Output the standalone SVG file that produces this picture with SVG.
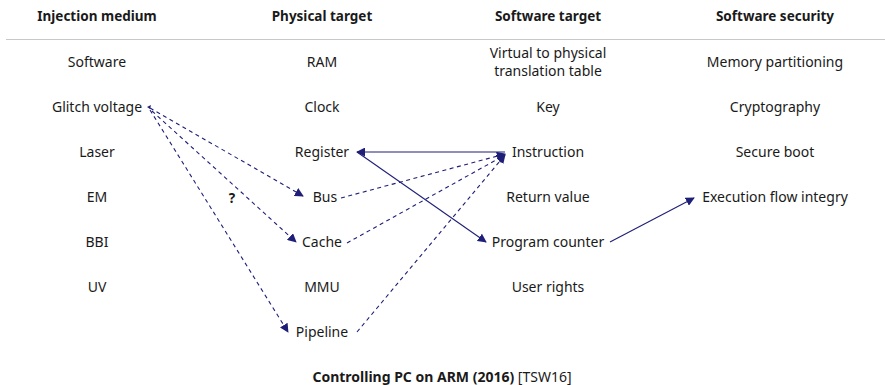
<svg xmlns="http://www.w3.org/2000/svg" width="885" height="385" viewBox="0 0 885 385">
<style>
text{font-family:"Noto Sans","Open Sans",sans-serif;font-size:14px;fill:#1a1a1a;text-anchor:middle}
.h{font-weight:bold;font-size:13.5px}
.c{fill:none;stroke:#1f1f78;stroke-width:1.1}
.d{stroke-dasharray:4,3.5}
</style>
<defs>
<marker id="ah" viewBox="0 0 10 10" refX="9" refY="5" markerWidth="9" markerHeight="9" markerUnits="userSpaceOnUse" orient="auto">
<path d="M0,0 L10,5 L0,10 z" fill="#1f1f78"/>
</marker>
</defs>
<rect width="885" height="385" fill="#fff"/>
<g id="headers">
<text class="h" x="97" y="21">Injection medium</text>
<text class="h" x="322" y="21">Physical target</text>
<text class="h" x="548" y="21">Software target</text>
<text class="h" x="775" y="21">Software security</text>
<line x1="6" y1="39.5" x2="885" y2="39.5" stroke="#c8c8c8" stroke-width="1"/>
</g>
<g id="col1">
<g id="software"><text x="97" y="67">Software</text></g>
<g id="glitch"><text x="97" y="112">Glitch voltage</text></g>
<g id="laser"><text x="97" y="157">Laser</text></g>
<g id="em"><text x="97" y="202">EM</text></g>
<g id="bbi"><text x="97" y="247">BBI</text></g>
<g id="uv"><text x="97" y="292">UV</text></g>
</g>
<g id="col2">
<g id="ram"><text x="322" y="67">RAM</text></g>
<g id="clock"><text x="322" y="112">Clock</text></g>
<g id="register"><text x="322" y="157">Register</text></g>
<g id="bus"><text x="325" y="202">Bus</text></g>
<g id="cache"><text x="322" y="247">Cache</text></g>
<g id="mmu"><text x="322" y="292">MMU</text></g>
<g id="pipeline"><text x="322" y="337">Pipeline</text></g>
</g>
<g id="col3">
<g id="virtual"><text x="548" y="58">Virtual to physical</text><text x="548" y="76">translation table</text></g>
<g id="key"><text x="548" y="112">Key</text></g>
<g id="instruction"><text x="548" y="157">Instruction</text></g>
<g id="retval"><text x="548" y="202">Return value</text></g>
<g id="pc"><text x="548" y="247">Program counter</text></g>
<g id="userrights"><text x="548" y="292">User rights</text></g>
</g>
<g id="col4">
<g id="mempart"><text x="775" y="67">Memory partitioning</text></g>
<g id="crypto"><text x="775" y="112">Cryptography</text></g>
<g id="secboot"><text x="775" y="157">Secure boot</text></g>
<g id="cfi"><text x="775" y="202">Execution flow integry</text></g>
</g>
<g id="connectors">
<path class="c d" d="M150,108 L303,196" marker-end="url(#ah)"/>
<path class="c d" d="M152,111 L296,242" marker-end="url(#ah)"/>
<path class="c d" d="M150,110 L288,332" marker-end="url(#ah)"/>
<path d="M147,107 L151,105 L150,109 z" fill="#1f1f78"/>
<path class="c d" d="M341,198 L505,154" marker-end="url(#ah)"/>
<path class="c d" d="M347,243 L505,155" marker-end="url(#ah)"/>
<path class="c d" d="M357,332 L505,155" marker-end="url(#ah)"/>
<path class="c" d="M505,152 L357,152" marker-end="url(#ah)"/>
<path class="c" d="M357,152 L486,242" marker-end="url(#ah)"/>
<path class="c" d="M610,242 L694,198" marker-end="url(#ah)"/>
<text class="h" x="232" y="203">?</text>
</g>
<g id="footer">
<text x="442" y="382"><tspan font-weight="bold">Controlling PC on ARM (2016)</tspan> [TSW16]</text>
</g>
</svg>
